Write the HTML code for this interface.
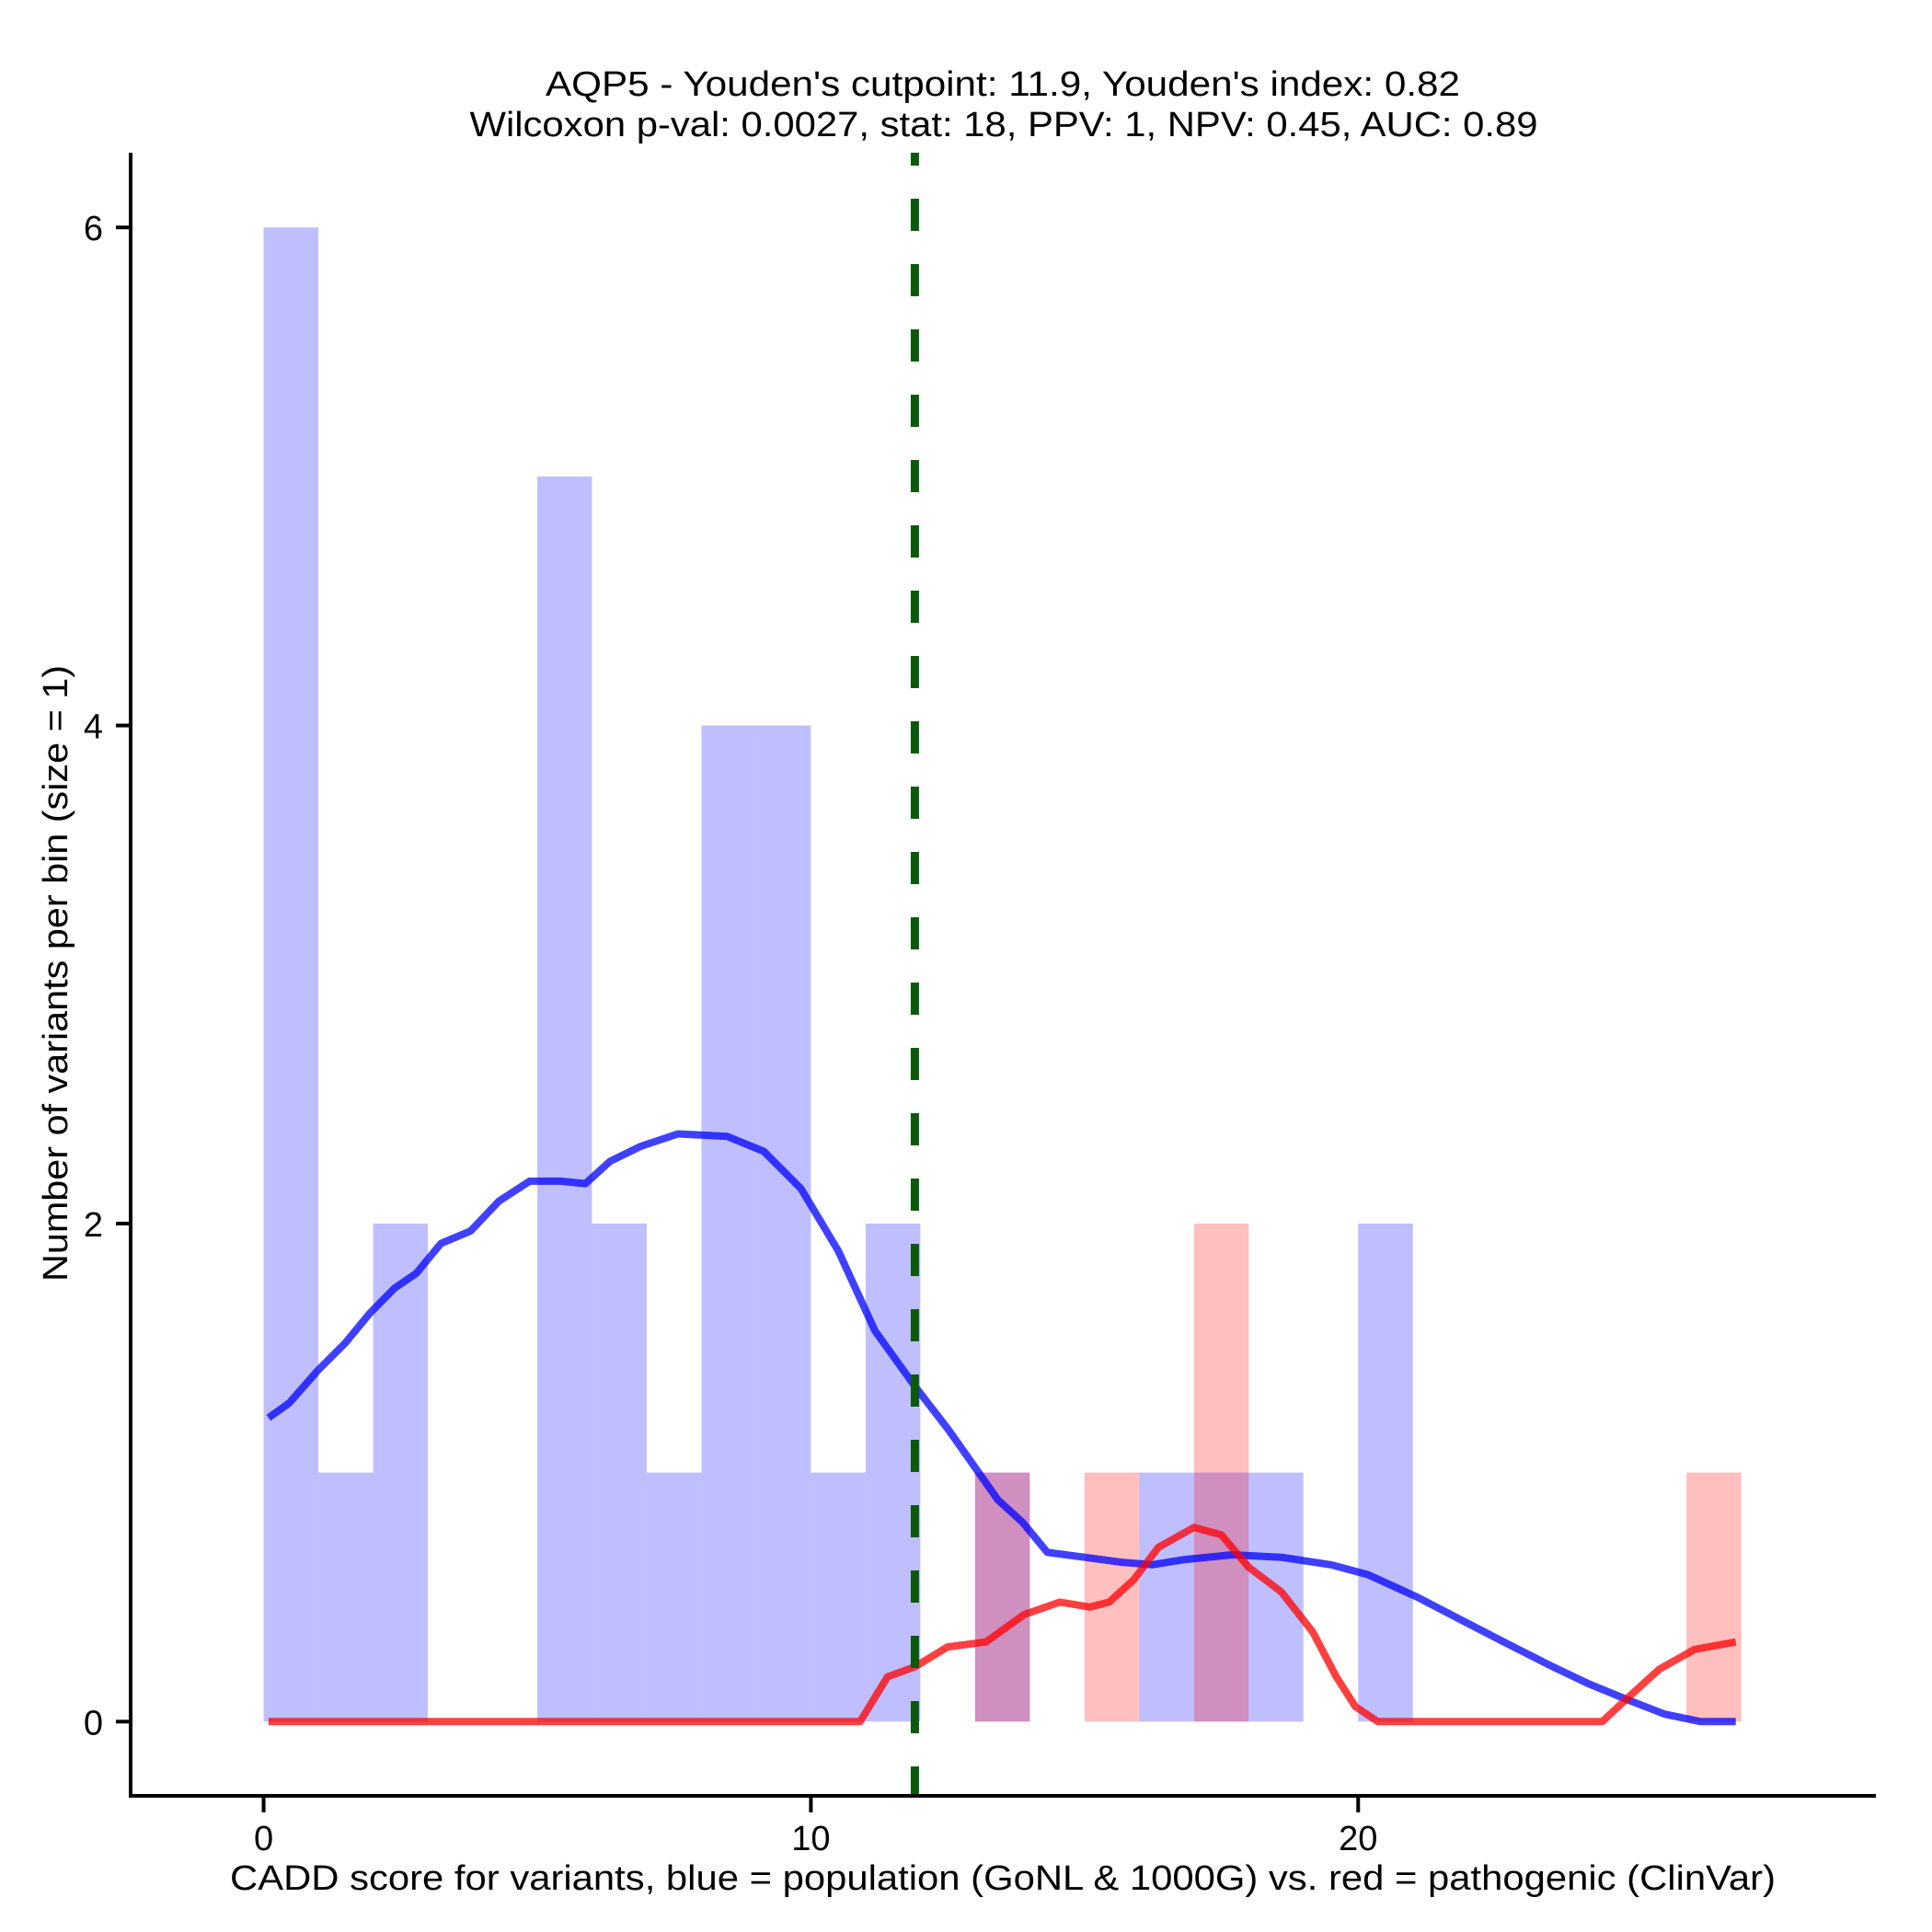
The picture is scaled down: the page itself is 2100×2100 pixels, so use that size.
<!DOCTYPE html>
<html><head><meta charset="utf-8"><style>
html,body{margin:0;padding:0;background:#fff}
svg{display:block;font-family:"Liberation Sans",sans-serif}
</style></head><body>
<svg id="chart" width="2100" height="2100" viewBox="0 0 2100 2100" xmlns="http://www.w3.org/2000/svg">
<text x="1090" y="104" font-size="38" text-anchor="middle" textLength="994" lengthAdjust="spacingAndGlyphs">AQP5 - Youden's cutpoint: 11.9, Youden's index: 0.82</text>
<text x="1091" y="148" font-size="38" text-anchor="middle" textLength="1161" lengthAdjust="spacingAndGlyphs">Wilcoxon p-val: 0.0027, stat: 18, PPV: 1, NPV: 0.45, AUC: 0.89</text>
<text x="1090" y="2054" font-size="38" text-anchor="middle" textLength="1680" lengthAdjust="spacingAndGlyphs">CADD score for variants, blue = population (GoNL &amp; 1000G) vs. red = pathogenic (ClinVar)</text>
<text x="0" y="0" font-size="38" text-anchor="middle" textLength="670" lengthAdjust="spacingAndGlyphs" transform="translate(73,1058) rotate(-90)">Number of variants per bin (size = 1)</text>
<g id="plot"></g>
</svg>
<script>
const xTicks=[0,10,20];
const yTicks=[0,2,4,6];
const binStarts=[0,1,2,3,4,5,6,7,8,9,10,11,12,13,14,15,16,17,18,19,20,21,22,23,24,25,26];
const blueCounts=[6,1,2,0,0,5,2,1,4,4,1,2,0,1,0,0,1,1,1,0,2,0,0,0,0,0,0];
const redCounts=[0,0,0,0,0,0,0,0,0,0,0,0,0,1,0,1,0,2,0,0,0,0,0,0,0,0,1];
const blueDensX=[0.09,0.47,0.99,1.49,1.94,2.39,2.79,3.24,3.78,4.3,4.86,5.43,5.88,6.33,6.89,7.57,8.47,9.14,9.82,10.5,11.17,11.89,12.52,13.42,13.87,14.32,15.0,15.68,16.24,16.8,17.7,18.6,19.5,20.18,21.08,21.87,22.66,23.56,24.23,24.9,25.6,26.26,26.9];
const blueDensY=[1.22,1.28,1.41,1.52,1.64,1.74,1.80,1.92,1.97,2.09,2.17,2.17,2.16,2.25,2.31,2.36,2.35,2.29,2.14,1.89,1.57,1.35,1.17,0.89,0.80,0.68,0.66,0.64,0.63,0.65,0.67,0.66,0.63,0.59,0.50,0.41,0.32,0.22,0.15,0.09,0.03,0,0];
const redDensX=[0.09,10.9,11.4,11.9,12.5,13.2,13.9,14.55,15.1,15.45,15.9,16.35,17.0,17.5,18.0,18.6,19.17,19.6,19.95,20.36,24.46,24.9,25.5,26.15,26.9];
const redDensY=[0,0,0.18,0.22,0.30,0.32,0.43,0.48,0.46,0.48,0.57,0.70,0.78,0.75,0.62,0.52,0.36,0.18,0.06,0,0,0.09,0.21,0.29,0.32];
const cutpoint=11.9;

const X0=142,X1=2039,Y0=1952,Y1=166;
const xMin=-2.43,xMax=29.46,yMin=-0.298,yMax=6.30;
const sx=v=>X0+(v-xMin)/(xMax-xMin)*(X1-X0);
const sy=v=>Y0-(v-yMin)/(yMax-yMin)*(Y0-Y1);
const NS="http://www.w3.org/2000/svg";
const g=document.getElementById('plot');
function mk(t,a){const e=document.createElementNS(NS,t);for(const k in a)e.setAttribute(k,a[k]);g.appendChild(e);return e;}

binStarts.forEach((b,i)=>{
 if(blueCounts[i]>0){const r=mk('rect',{x:sx(b),y:sy(blueCounts[i]),width:sx(b+1)-sx(b),height:sy(0)-sy(blueCounts[i]),fill:'#0000ff','fill-opacity':0.25});
 
 }
});
binStarts.forEach((b,i)=>{
 if(redCounts[i]>0){const r=mk('rect',{x:sx(b),y:sy(redCounts[i]),width:sx(b+1)-sx(b),height:sy(0)-sy(redCounts[i]),fill:'#ff0000','fill-opacity':0.25});
 
 }
});
function line(xs,ys,col,name){
 const d=xs.map((x,i)=>(i?'L':'M')+sx(x).toFixed(1)+','+sy(ys[i]).toFixed(1)).join('');
 const p=mk('path',{d:d,fill:'none',stroke:col,'stroke-opacity':0.75,'stroke-width':8,'stroke-linejoin':'round'});
 
 
}
line(blueDensX,blueDensY,'#0000ff','blue-density-line');
line(redDensX,redDensY,'#ff0000','red-density-line');
const cl=mk('line',{x1:sx(cutpoint),x2:sx(cutpoint),y1:Y1,y2:Y0,stroke:'#0b5a0b','stroke-width':9,'stroke-dasharray':'35 36','stroke-dashoffset':21});



const ya=mk('line',{x1:X0,x2:X0,y1:Y1,y2:Y0,stroke:'#000','stroke-width':4});


const xa=mk('line',{x1:X0-2,x2:X1,y1:Y0,y2:Y0,stroke:'#000','stroke-width':4});


xTicks.forEach(t=>{
 const tk=mk('line',{x1:sx(t),x2:sx(t),y1:Y0,y2:Y0+18,stroke:'#000','stroke-width':4});
 
 
 const tx=mk('text',{x:sx(t),y:Y0+59,'font-size':38,'text-anchor':'middle'});tx.textContent=t;
 
 
});
yTicks.forEach(t=>{
 const tk=mk('line',{x1:X0-16,x2:X0,y1:sy(t),y2:sy(t),stroke:'#000','stroke-width':4});
 
 
 const tx=mk('text',{x:X0-30,y:sy(t)+14,'font-size':38,'text-anchor':'end'});tx.textContent=t;
 
 
});
</script>
</body></html>
